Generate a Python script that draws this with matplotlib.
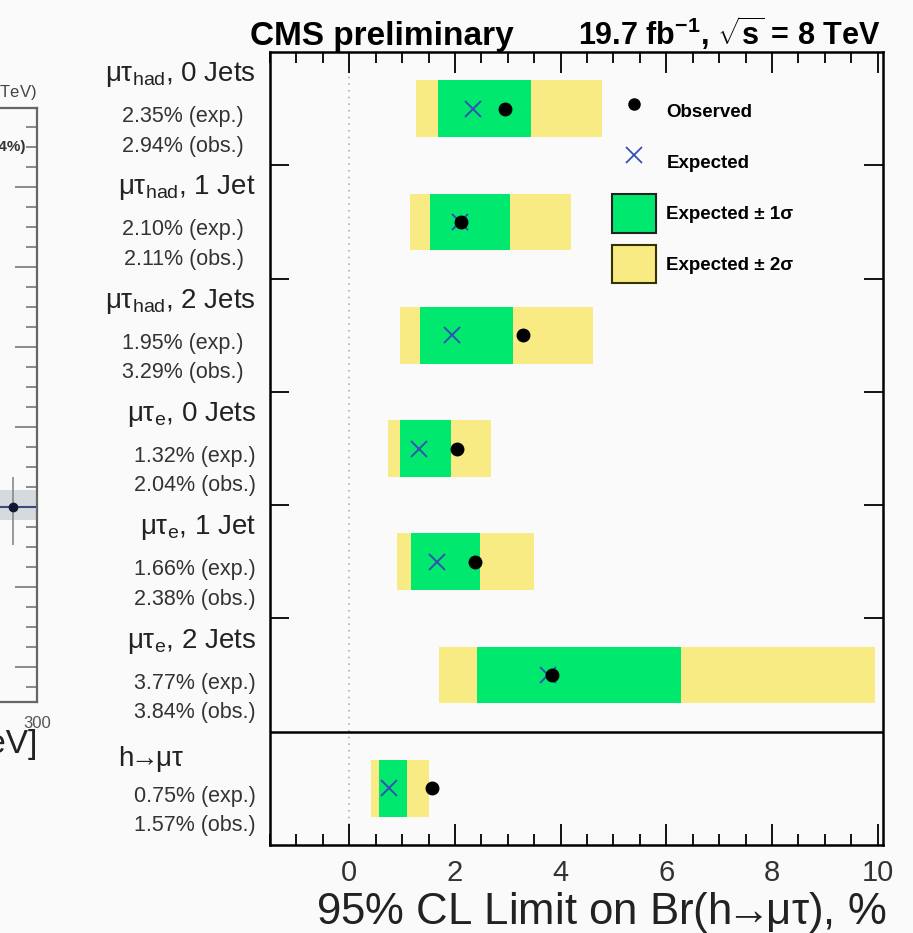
import matplotlib
matplotlib.use('Agg')
import matplotlib.pyplot as plt
import matplotlib.transforms as mtransforms
from matplotlib.lines import Line2D
from matplotlib.patches import Patch
from matplotlib.ticker import MultipleLocator
import numpy as np

plt.rcParams['font.family'] = ['Liberation Sans', 'DejaVu Sans']
plt.rcParams['mathtext.fontset'] = 'custom'
plt.rcParams['mathtext.rm'] = 'Liberation Sans'
plt.rcParams['mathtext.it'] = 'Liberation Sans:italic'
plt.rcParams['mathtext.bf'] = 'Liberation Sans:bold'

# categories, top to bottom
categories = [r'μτ$_{\mathregular{had}}$, 0 Jets', r'μτ$_{\mathregular{had}}$, 1 Jet',
              r'μτ$_{\mathregular{had}}$, 2 Jets', r'μτ$_{\mathregular{e}}$, 0 Jets',
              r'μτ$_{\mathregular{e}}$, 1 Jet', r'μτ$_{\mathregular{e}}$, 2 Jets',
              r'h$\!\!\rightarrow\!\!$μτ']
exp_limit = [2.35, 2.10, 1.95, 1.32, 1.66, 3.77, 0.75]
obs_limit = [2.94, 2.11, 3.29, 2.04, 2.38, 3.84, 1.57]
band2_lo = [1.27, 1.15, 0.96, 0.74, 0.90, 1.69, 0.41]
band1_lo = [1.68, 1.53, 1.33, 0.96, 1.17, 2.42, 0.56]
band1_hi = [3.43, 3.04, 3.09, 1.93, 2.47, 6.27, 1.10]
band2_hi = [4.78, 4.20, 4.62, 2.69, 3.50, 9.95, 1.51]

# piece of the neighbouring plot cut by the left edge
side_x = [280]
side_y = [8.0]
side_err = [[1.9], [1.5]]
side_band = (7.35, 8.85)

GREEN = '#00E96E'
YELLOW = '#F9EB84'
BLUE = '#3550B5'
BG = '#fafafa'

W, H = 913, 933
fig = plt.figure(figsize=(W / 100, H / 100), dpi=100, facecolor=BG)


def px_rect(x0, y0, x1, y1):
    return [x0 / W, 1 - y1 / H, (x1 - x0) / W, (y1 - y0) / H]


# ---- main limit plot
ax = fig.add_axes(px_rect(270, 52, 883, 845))
ax.set_facecolor(BG)
n = len(categories)
ypos = np.arange(n)[::-1] + 0.5

ax.barh(ypos, np.array(band2_hi) - np.array(band2_lo), left=band2_lo, height=0.5,
        color=YELLOW, lw=0, zorder=1)
ax.barh(ypos, np.array(band1_hi) - np.array(band1_lo), left=band1_lo, height=0.5,
        color=GREEN, lw=0, zorder=2)
ax.plot(exp_limit, ypos, 'x', color=BLUE, ms=12, mew=1.4, ls='none', zorder=3)
ax.plot(obs_limit, ypos, 'o', color='black', ms=9, ls='none', zorder=4)

ax.axvline(0, ls=(0, (1, 3)), color='#b0b0b0', lw=1.2, zorder=0)
ax.axhline(1, color='black', lw=1.8)

ax.set_xlim(-1.5, 10.1)
ax.set_ylim(0, 7)
ax.xaxis.set_major_locator(MultipleLocator(2))
ax.xaxis.set_minor_locator(MultipleLocator(0.5))
ax.set_yticks([2, 3, 4, 5, 6])
ax.set_yticklabels([])
ax.tick_params(which='both', direction='in', top=True, right=True, width=1.3)
ax.tick_params(axis='x', which='major', length=15, labelsize=21, pad=10, labelcolor='#333333')
ax.tick_params(axis='x', which='minor', length=8)
ax.tick_params(axis='y', which='major', length=14)
for s in ax.spines.values():
    s.set_linewidth(1.8)

handles = [Line2D([], [], marker='o', color='black', ls='none', ms=8),
           Line2D([], [], marker='x', color=BLUE, ls='none', ms=11, mew=1.3),
           Patch(facecolor=GREEN, edgecolor='#222222', lw=1.5),
           Patch(facecolor=YELLOW, edgecolor='#333300', lw=1.5)]
leg_labels = ['Observed', 'Expected', 'Expected ± 1σ', 'Expected ± 2σ']
ax.legend(handles, leg_labels, loc='upper left', bbox_to_anchor=((612 - 270) / 613, (845 - 92) / 793),
          frameon=False, borderpad=0, borderaxespad=0, handlelength=2.35, handleheight=2.8,
          handletextpad=0.55, labelspacing=0.65, prop={'size': 13.5, 'weight': 'bold'})

# row labels to the left of the frame
trans = mtransforms.blended_transform_factory(fig.transFigure, ax.transData)
for i, cat in enumerate(categories):
    top = n - i
    if i < n - 1:
        ax.text(256 / W, top - 0.2, cat, transform=trans, ha='right', va='center',
                fontsize=20, color='#222222')
    else:
        ax.text(118 / W, top - 0.24, cat, transform=trans, ha='left', va='center',
                fontsize=20, color='#222222')
    x_end = 244 if i < 3 else 256
    ax.text(x_end / W, top - 0.57, f'{exp_limit[i]:.2f}% (exp.)', transform=trans,
            ha='right', va='center', fontsize=15.5, color='#333333')
    ax.text(x_end / W, top - 0.83, f'{obs_limit[i]:.2f}% (obs.)', transform=trans,
            ha='right', va='center', fontsize=15.5, color='#333333')

fig.text(250 / W, 1 - 45 / H, 'CMS preliminary', fontsize=24, fontweight='bold',
         ha='left', va='baseline')
fig.text(880 / W, 1 - 45 / H, r'19.7 fb$^{\mathbf{-1}}$, $\mathbf{\sqrt{s}}$ = 8 TeV',
         fontsize=22, fontweight='bold', ha='right', va='baseline')
fig.text(886 / W, 1 - 924 / H, r'95% CL Limit on Br(h$\!\!\rightarrow\!\!$μτ), %', fontsize=31.5,
         ha='right', va='baseline', color='#222222')

# ---- neighbouring plot fragment
ax2 = fig.add_axes(px_rect(-326, 108, 37, 702))
ax2.set_facecolor(BG)
ax2.set_xlim(0, 300)
ax2.set_ylim(-1.75, 27.95)
ax2.axhspan(side_band[0], side_band[1], color='#d6d9de', lw=0)
ax2.axhline(side_y[0], color='#3a4a80', lw=1.5)
ax2.errorbar(side_x, side_y, yerr=side_err, fmt='o', color='#101830', ms=6,
             ecolor='#888888', elinewidth=1.2)
ax2.spines['left'].set_visible(False)
for s in ['top', 'right', 'bottom']:
    ax2.spines[s].set_linewidth(1.6)
    ax2.spines[s].set_color('#666666')
ax2.yaxis.tick_right()
ax2.yaxis.set_major_locator(MultipleLocator(4))
ax2.yaxis.set_minor_locator(MultipleLocator(1))
ax2.tick_params(axis='y', which='both', direction='in', labelright=False, color='#777777')
ax2.tick_params(axis='y', which='major', length=16, width=1.2)
ax2.tick_params(axis='y', which='minor', length=8, width=1.2)
ax2.set_xticks([300])
ax2.set_xticklabels(['300'])
ax2.tick_params(axis='x', length=0, labelsize=12, pad=10, labelcolor='#555555')

fig.text(37 / W, 1 - 92 / H, r'19.7 fb$^{-1}$ (8 TeV)', fontsize=12, ha='right',
         va='center', color='#444444')
fig.text(25 / W, 1 - 147 / H, 'Best fit (0.84%)', fontsize=11, fontweight='bold',
         ha='right', va='center', color='#333333')
fig.text(37 / W, 1 - 745 / H, 'M [GeV]', fontsize=24, ha='right', va='center',
         color='#222222')

fig.savefig('out.png', dpi=100, facecolor=BG)
